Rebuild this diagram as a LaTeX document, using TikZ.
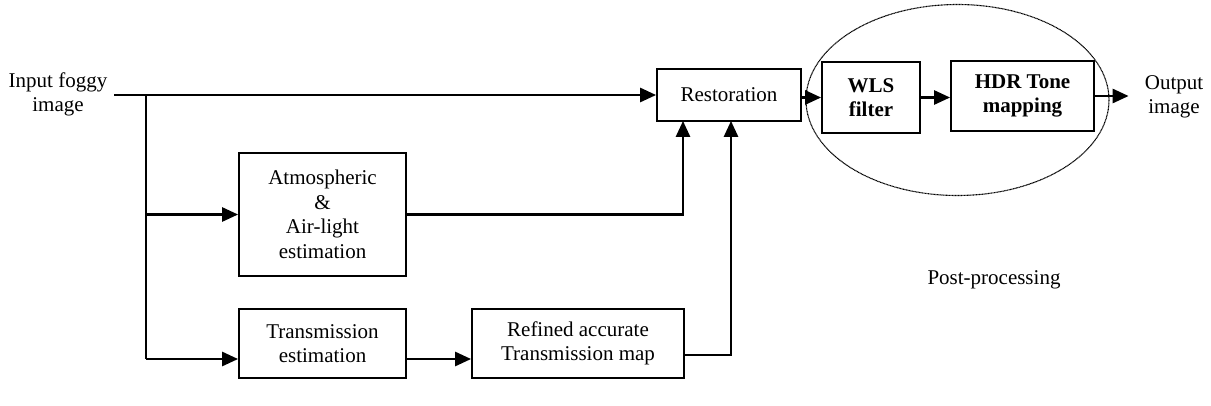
\documentclass[tikz,border=0pt]{standalone}
\usepackage{fontspec}
\setmainfont{Liberation Serif}
\usetikzlibrary{arrows.meta,calc}
\begin{document}
\begin{tikzpicture}[x=1pt,y=-1pt,
  font=\fontsize{21}{24.5}\selectfont,
  blk/.style={draw,line width=1.8pt,inner sep=0pt,align=center},
  lbl/.style={inner sep=0pt,align=center},
  wire/.style={line width=2.7pt},
  arr/.style={wire,-{Triangle[length=16pt,width=14pt]}}]
\useasboundingbox (0,0) rectangle (1211,405);
% blocks
\node[blk,minimum width=144pt,minimum height=52pt] (rest) at (729,95) {Restoration};
\node[blk,minimum width=98pt,minimum height=71pt,font=\fontsize{21}{24.5}\selectfont\bfseries] (wls) at (871,97.5) {WLS\\filter};
\node[blk,minimum width=143pt,minimum height=70pt,font=\fontsize{21}{24.5}\selectfont\bfseries] (hdr) at (1022.5,96) {HDR Tone\\mapping};
\node[blk,minimum width=167pt,minimum height=123pt] (atm) at (322.5,214.5) {Atmospheric\\\&\\Air-light\\estimation};
\node[blk,minimum width=167pt,minimum height=69pt] (te) at (322.5,343.5) {Transmission\\estimation};
\node[blk,minimum width=212pt,minimum height=69pt] (ref) at (578,343.5) {Refined accurate\\Transmission map};
% labels
\node[lbl,inner xsep=7pt] (in) at (58,94.5) {Input foggy\\image};
\node[lbl,inner xsep=16pt] (out) at (1174,97) {Output\\image};
\node[lbl] (post) at (994,280) {Post-processing};
% ellipse
\draw[line width=1.1pt,dash pattern=on 1pt off 0.5pt] (957.5,100) ellipse [x radius=151.5, y radius=95.5];
% connectors
\coordinate (j) at (146,95);
\draw[arr] (in.east |- rest.west) -- (rest.west);
\draw[wire] (j) -- (146,359);
\draw[arr] (j |- atm.west) -- (atm.west);
\draw[arr] (146,359) -- ([yshift=-15.5pt]te.west);
\draw[arr] ([yshift=-15.5pt]te.east) -- ([yshift=-15.5pt]ref.west);
\draw[arr] (atm.east) -| ([xshift=-46pt,yshift=1pt]rest.south);
\draw[arr] ([yshift=-11.5pt]ref.east) -| ([xshift=2pt,yshift=1pt]rest.south);
\draw[arr] (rest.east |- wls.west) -- (wls.west);
\draw[arr] (wls.east) -- (wls.east -| hdr.west);
\draw[arr] (hdr.east) -- (hdr.east -| out.west);
\end{tikzpicture}
\end{document}
